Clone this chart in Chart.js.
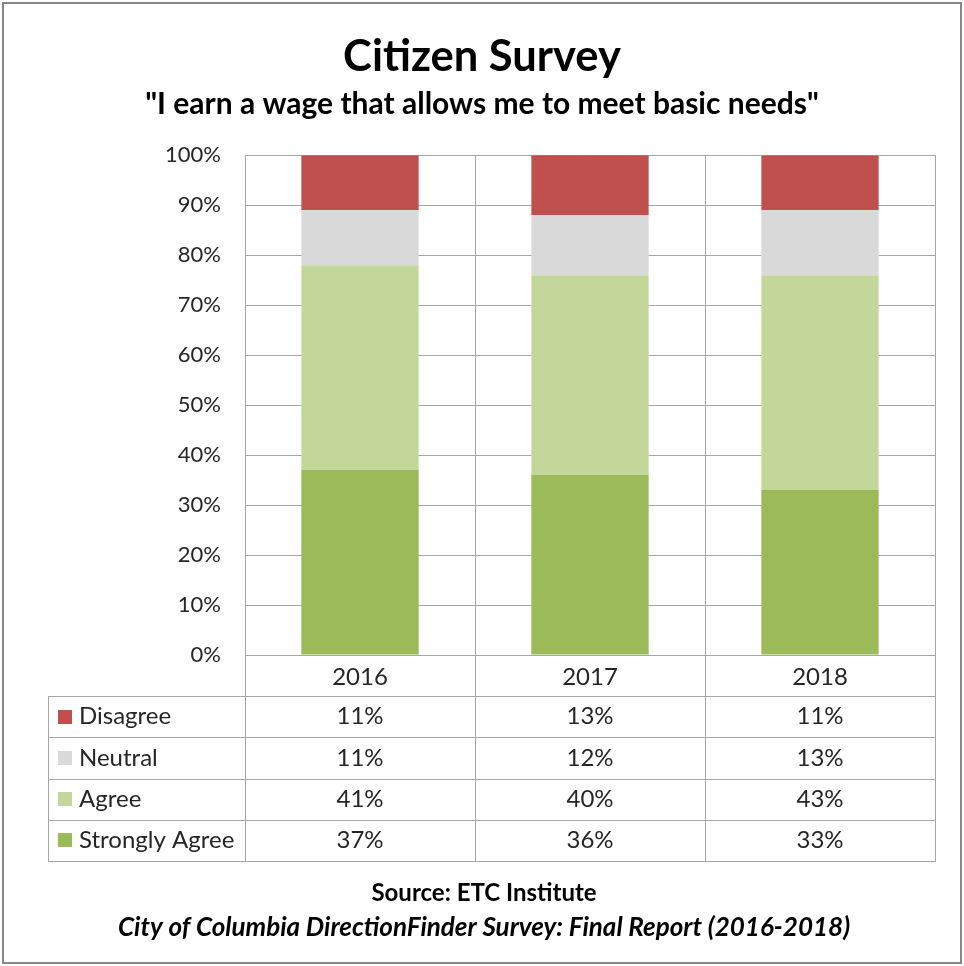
<!DOCTYPE html>
<html><head><meta charset="utf-8">
<script src="https://cdn.jsdelivr.net/npm/chart.js@4.4.1/dist/chart.umd.min.js"></script>
<style>html,body{margin:0;padding:0;background:#fff}canvas{display:block}</style>
</head><body>
<canvas id="c" width="964" height="966"></canvas>
<script>
// ---- data ----
const categories = ['2016', '2017', '2018'];
const seriesNames = ['Strongly Agree', 'Agree', 'Neutral', 'Disagree'];
const stronglyAgree = [37, 36, 33];
const agree = [41, 40, 43];
const neutral = [11, 12, 13];
const disagree = [11, 13, 11];
const tableRowOrder = ['Disagree', 'Neutral', 'Agree', 'Strongly Agree'];
const titleText = 'Citizen Survey';
const subtitleText = '"I earn a wage that allows me to meet basic needs"';
const sourceText = 'Source: ETC Institute';
const reportText = 'City of Columbia DirectionFinder Survey: Final Report (2016-2018)';

// ---- styles ----
const FONT = 'Lato, "Liberation Sans", sans-serif';
const GRID = '#A6A6A6';
const TEXT = '#262626';
const colors = {
  'Strongly Agree': '#9BBB59',
  'Agree': '#C4D79B',
  'Neutral': '#D9D9D9',
  'Disagree': '#C0504D'
};
const seriesValues = [stronglyAgree, agree, neutral, disagree];

const frame = {
  id: 'frame',
  beforeDraw(chart) {
    const ctx = chart.ctx;
    ctx.save();
    ctx.fillStyle = '#fff';
    ctx.fillRect(0, 0, chart.width, chart.height);
    ctx.strokeStyle = '#878787';
    ctx.lineWidth = 2;
    ctx.strokeRect(3, 3, chart.width - 6, chart.height - 6);
    ctx.restore();
  }
};

const dataTable = {
  id: 'dataTable',
  afterDraw(chart) {
    const ctx = chart.ctx, xs = chart.scales.x, area = chart.chartArea;
    const n = categories.length;
    const cw = (area.right - area.left) / n;
    const headerBottom = area.bottom + 41;
    const rowH = 41.25;
    const left = 48;
    const bottom = headerBottom + rowH * tableRowOrder.length;
    const px = v => Math.round(v) + 0.5;
    ctx.save();
    ctx.strokeStyle = GRID;
    ctx.lineWidth = 1;
    ctx.beginPath();
    for (let r = 0; r <= tableRowOrder.length; r++) {
      const y = px(headerBottom + r * rowH);
      ctx.moveTo(left, y); ctx.lineTo(area.right + 1, y);
    }
    ctx.moveTo(px(left), px(headerBottom)); ctx.lineTo(px(left), px(bottom));
    for (let i = 0; i <= n; i++) {
      const bx = px(i < n ? xs.getPixelForValue(i) - cw / 2 : xs.getPixelForValue(n - 1) + cw / 2);
      ctx.moveTo(bx, area.bottom); ctx.lineTo(bx, px(bottom));
    }
    ctx.stroke();

    ctx.font = '24px ' + FONT;
    ctx.textBaseline = 'middle';
    tableRowOrder.forEach((name, r) => {
      const ds = chart.data.datasets.find(d => d.label === name);
      const cy = headerBottom + r * rowH + rowH / 2;
      ctx.fillStyle = ds.backgroundColor;
      ctx.fillRect(58, Math.round(cy - 7), 14, 14);
      ctx.fillStyle = TEXT;
      ctx.textAlign = 'left';
      ctx.fillText(name, 79, cy);
      ctx.textAlign = 'center';
      ds.data.forEach((v, i) => {
        ctx.fillText(v + '%', xs.getPixelForValue(i), cy);
      });
    });

    ctx.fillStyle = '#000';
    ctx.textAlign = 'center';
    ctx.font = 'bold 24px ' + FONT;
    ctx.fillText(sourceText, 484, 893);
    ctx.font = 'italic bold 26px ' + FONT;
    ctx.fillText(reportText, 484, 928);
    ctx.restore();
  }
};

new Chart(document.getElementById('c'), {
  type: 'bar',
  data: {
    labels: categories,
    datasets: seriesNames.map((name, k) => ({
      label: name,
      data: seriesValues[k],
      backgroundColor: colors[name],
      borderWidth: 0,
      categoryPercentage: 1,
      barPercentage: 0.51
    }))
  },
  options: {
    responsive: false,
    animation: false,
    layout: { padding: { top: 31, left: 29, right: 29, bottom: 270 } },
    plugins: {
      legend: { display: false },
      tooltip: { enabled: false },
      title: {
        display: true, text: titleText, color: '#000',
        font: { family: FONT, size: 43.5, weight: 'bold', lineHeight: 1.2 },
        padding: { top: 0, bottom: 0 }
      },
      subtitle: {
        display: true, text: subtitleText, color: '#000',
        font: { family: FONT, size: 30, weight: 'bold', lineHeight: 1.2 },
        padding: { top: 3, bottom: 33 }
      }
    },
    scales: {
      x: {
        stacked: true,
        offset: true,
        grid: { display: true, offset: true, color: GRID, drawTicks: false },
        border: { display: true, color: GRID },
        ticks: { color: TEXT, font: { family: FONT, size: 24 }, padding: 8 },
        afterFit(s) { s.height = 41; }
      },
      y: {
        stacked: true,
        min: 0, max: 100,
        grid: { color: GRID, drawTicks: false },
        border: { display: true, color: GRID },
        ticks: {
          stepSize: 10, color: TEXT, padding: 24,
          font: { family: FONT, size: 22 },
          callback: v => v + '%'
        },
        afterFit(s) { s.width = 216; }
      }
    }
  },
  plugins: [frame, dataTable]
});
</script>
</body></html>
